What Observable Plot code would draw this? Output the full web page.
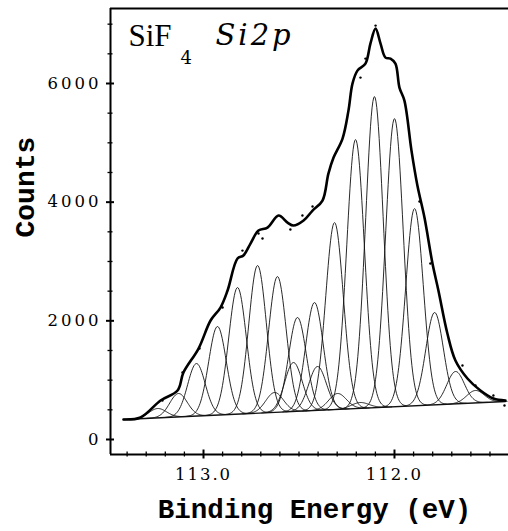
<!DOCTYPE html>
<html><head><meta charset="utf-8">
<script src="https://cdn.jsdelivr.net/npm/d3@7"></script>
<script src="https://cdn.jsdelivr.net/npm/@observablehq/plot@0.6"></script>
<style>
html,body{margin:0;padding:0;background:#fff;}
#chart svg{display:block;}
g[aria-label="y-axis tick label"] text{letter-spacing:3px;}
g[aria-label="x-axis tick label"] text{letter-spacing:2px;}
</style></head><body><div id="chart"></div>
<script>
// Fitted components: centre (eV) and apex height (counts)
const compCenter = [113.24, 113.131, 113.037, 112.927, 112.822, 112.717, 112.613, 112.508, 112.419, 112.314,
                    112.204, 112.105, 112.0, 111.895, 111.79, 111.68, 111.576,
                    112.529, 112.403, 112.628, 112.298, 112.18];
const compApex   = [522, 775, 1280, 1904, 2561, 2932, 2746, 2056, 2308, 3656,
                    5055, 5779, 5408, 3892, 2140, 1146, 826,
                    1297, 1230, 792, 775, 623];
const compSigma = 0.046; // Gaussian width (eV)

// Linear background
const baseE = [113.419, 111.419];
const baseC = [337, 640];

// Envelope (fit curve)
const envE = [113.419,113.330,113.225,113.136,113.105,113.026,112.963,112.911,112.874,112.822,112.791,112.754,112.712,
              112.665,112.607,112.560,112.529,112.476,112.429,112.377,112.346,112.319,112.272,112.241,112.220,112.194,
              112.152,112.126,112.099,112.073,112.047,112.021,111.995,111.974,111.948,111.911,111.880,111.843,111.801,
              111.770,111.723,111.681,111.618,111.550,111.482,111.419];
const envC = [337,371,657,826,1129,1533,2005,2224,2511,3050,3100,3302,3521,
              3572,3774,3656,3606,3690,3858,4027,4482,4751,5072,5543,5998,6217,
              6335,6672,6925,6672,6436,6420,6335,5931,5712,4869,4280,3741,2965,
              2511,1786,1331,1028,826,691,657];

// Measured data points
const ptE = [113.215,113.110,113.021,112.900,112.796,112.712,112.691,112.545,112.482,112.429,112.178,112.152,112.099,
             111.869,111.812,111.644,111.576,111.482,111.424];
const ptC = [657,1129,1533,2224,3184,3471,3387,3538,3774,3926,6099,6420,6976,
             4010,2965,1247,910,741,573];

// Axes
const xDomain = [113.487, 111.403];
const yDomain = [-253, 7264];
const xMajor = [113.0, 112.0];
const xMinor = [113.4,113.3,113.2,113.1,112.9,112.8,112.7,112.6,112.5,112.4,112.3,112.2,112.1,111.9,111.8,111.7,111.6,111.5];
const yMajor = [0, 2000, 4000, 6000];
const yMinor = [500,1000,1500,2500,3000,3500,4500,5000,5500,6500,7000];

const baseAt = E => baseC[0] + (baseC[1] - baseC[0]) * (E - baseE[0]) / (baseE[1] - baseE[0]);

const compRows = [];
compCenter.forEach((c, i) => {
  const amp = compApex[i] - baseAt(c);
  const span = 3.6 * compSigma;
  const n = 80;
  for (let k = 0; k <= n; k++) {
    const E = c - span + 2 * span * k / n;
    compRows.push({id: i, E, C: baseAt(E) + amp * Math.exp(-((E - c) ** 2) / (2 * compSigma ** 2))});
  }
});
const baseRows = baseE.map((e, i) => ({E: e, C: baseC[i]}));
const envRows = envE.map((e, i) => ({E: e, C: envC[i]}));
const ptRows = ptE.map((e, i) => ({E: e, C: ptC[i]}));

const serif = "'DejaVu Serif', serif";
const mono = "'Liberation Mono', monospace";

const chart = Plot.plot({
  width: 508, height: 531,
  marginLeft: 110, marginRight: 0, marginTop: 8, marginBottom: 77,
  style: {background: "white", color: "black"},
  x: {domain: xDomain},
  y: {domain: yDomain},
  marks: [
    Plot.line(compRows, {x: "E", y: "C", z: "id", stroke: "#111", strokeWidth: 0.9}),
    Plot.line(baseRows, {x: "E", y: "C", stroke: "#111", strokeWidth: 1.3}),
    Plot.line(envRows, {x: "E", y: "C", stroke: "#000", strokeWidth: 2.6, curve: "catmull-rom"}),
    Plot.dot(ptRows, {x: "E", y: "C", r: 1.2, fill: "#000", stroke: null}),
    Plot.ruleY([yDomain[1]], {stroke: "#000", strokeWidth: 2}),
    Plot.ruleY([yDomain[0]], {stroke: "#000", strokeWidth: 2}),
    Plot.ruleX([xDomain[0]], {stroke: "#000", strokeWidth: 2}),
    Plot.axisY({ticks: yMinor, tickSize: 5, dx: 2.5, tickFormat: () => "", label: null, strokeWidth: 1.3}),
    Plot.axisY({ticks: yMajor, tickSize: 8, dx: 4, tickFormat: () => "", label: null, strokeWidth: 2}),
    Plot.axisY({ticks: yMajor, tickSize: 0, tickPadding: 9, tickFormat: d => String(d), label: null,
                fontFamily: serif, fontSize: 16.5}),
    Plot.axisX({ticks: xMinor, tickSize: 5, dy: -2.5, tickFormat: () => "", label: null, strokeWidth: 1.3}),
    Plot.axisX({ticks: xMajor, tickSize: 9, dy: -4.5, tickFormat: () => "", label: null, strokeWidth: 2}),
    Plot.axisX({ticks: xMajor, tickSize: 0, tickPadding: 14, tickFormat: d => d.toFixed(1), label: null,
                fontFamily: serif, fontSize: 16.5}),
    Plot.text(["SiF"], {frameAnchor: "top-left", textAnchor: "start", lineAnchor: "bottom", dx: 18, dy: 37,
                        fontFamily: "'Liberation Serif', serif", fontSize: 31}),
    Plot.text(["4"], {frameAnchor: "top-left", textAnchor: "start", lineAnchor: "bottom", dx: 70, dy: 55,
                      fontFamily: serif, fontSize: 18}),
    Plot.text(["Si2p"], {frameAnchor: "top-left", textAnchor: "start", lineAnchor: "bottom", dx: 105, dy: 36,
                         fontFamily: serif, fontStyle: "italic", fontSize: 29}),
    Plot.text(["Counts"], {frameAnchor: "left", rotate: -90, dx: -85, dy: 6,
                           fontFamily: mono, fontWeight: "bold", fontSize: 28}),
    Plot.text(["Binding Energy (eV)"], {frameAnchor: "bottom", dx: 5, dy: 63,
                                        fontFamily: mono, fontWeight: "bold", fontSize: 27.5})
  ]
});
chart.querySelectorAll("text").forEach(t => {
  if (t.textContent === "Si2p") t.style.letterSpacing = "3px";
});
document.getElementById("chart").append(chart);
</script></body></html>
